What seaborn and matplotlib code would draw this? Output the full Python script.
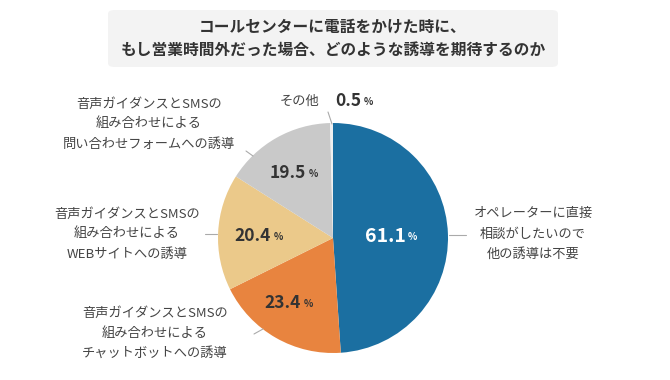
import numpy as np
import seaborn as sns
import matplotlib.pyplot as plt
from matplotlib.patches import FancyBboxPatch

categories = [
    "オペレーターに直接\n相談がしたいので\n他の誘導は不要",
    "音声ガイダンスとSMSの\n組み合わせによる\nチャットボットへの誘導",
    "音声ガイダンスとSMSの\n組み合わせによる\nWEBサイトへの誘導",
    "音声ガイダンスとSMSの\n組み合わせによる\n問い合わせフォームへの誘導",
    "その他",
]
values = [61.1, 23.4, 20.4, 19.5, 0.5]
colors = ["#1b6fa1", "#e8843f", "#ebc98a", "#c9c9c9", "#f0f0f0"]
title = "コールセンターに電話をかけた時に、\nもし営業時間外だった場合、どのような誘導を期待するのか"

sns.set_theme(style="white")
plt.rcParams["font.family"] = ["Noto Sans CJK JP", "DejaVu Sans"]

W, H, R = 670, 380, 115
cx, cy = 333, 238
fig = plt.figure(figsize=(6.7, 3.8), dpi=100)
ax = fig.add_axes([0, 0, 1, 1])

wedges, _ = ax.pie(values, colors=colors, startangle=90, counterclock=False,
                   radius=1, center=(0, 0), frame=True,
                   wedgeprops=dict(linewidth=0))
ax.set_xlim(-cx / R, (W - cx) / R)
ax.set_ylim(-(H - cy) / R, cy / R)
ax.set_aspect("equal")
ax.axis("off")


def px(x, y):
    return (x - cx) / R, (cy - y) / R


# percentage labels (centre of number, pixel coords)
pct_pos = [(385, 236), (283, 303), (253, 236), (288, 173), (348, 101)]
pct_col = ["white", "#333333", "#333333", "#333333", "#333333"]
pct_size = [14, 12.5, 12.5, 12.5, 12.5]
for v, (x, y), c, s in zip(values, pct_pos, pct_col, pct_size):
    t = ax.text(*px(x, y), f"{v}", ha="center", va="center", fontsize=s,
                fontweight="bold", color=c)
    ax.annotate("%", xy=(1, 0.18), xycoords=t, xytext=(2, 0),
                textcoords="offset points", ha="left", va="bottom",
                fontsize=7, fontweight="bold", color=c)

# category labels
lab_pos = [(533, 234), (155, 333), (127, 234), (149, 124), (300, 101)]
for c, (x, y) in zip(categories, lab_pos):
    ax.text(*px(x, y), c, ha="center", va="center", fontsize=9.5,
            color="#444444", linespacing=1.7)

# leader stubs
stubs = [((449, 235), (466, 235)), ((263, 329), (254, 334)),
         ((217, 234), (205, 234)), ((253, 156), (246, 151)),
         ((332, 124), (328, 112))]
for a, b in stubs:
    xa, ya = px(*a)
    xb, yb = px(*b)
    ax.plot([xa, xb], [ya, yb], color="#aaaaaa", lw=0.8)

# title box
box = FancyBboxPatch((108 / W, 1 - 67 / H), 450 / W, 57 / H,
                     boxstyle="round,pad=0,rounding_size=0.01",
                     transform=fig.transFigure, facecolor="#f3f3f3",
                     edgecolor="none", zorder=0)
fig.patches.append(box)
fig.text(cx / W, 1 - 38 / H, title, ha="center", va="center", fontsize=11.3,
         fontweight="bold", color="#333333", linespacing=1.6)

fig.savefig("out.png", dpi=100)
